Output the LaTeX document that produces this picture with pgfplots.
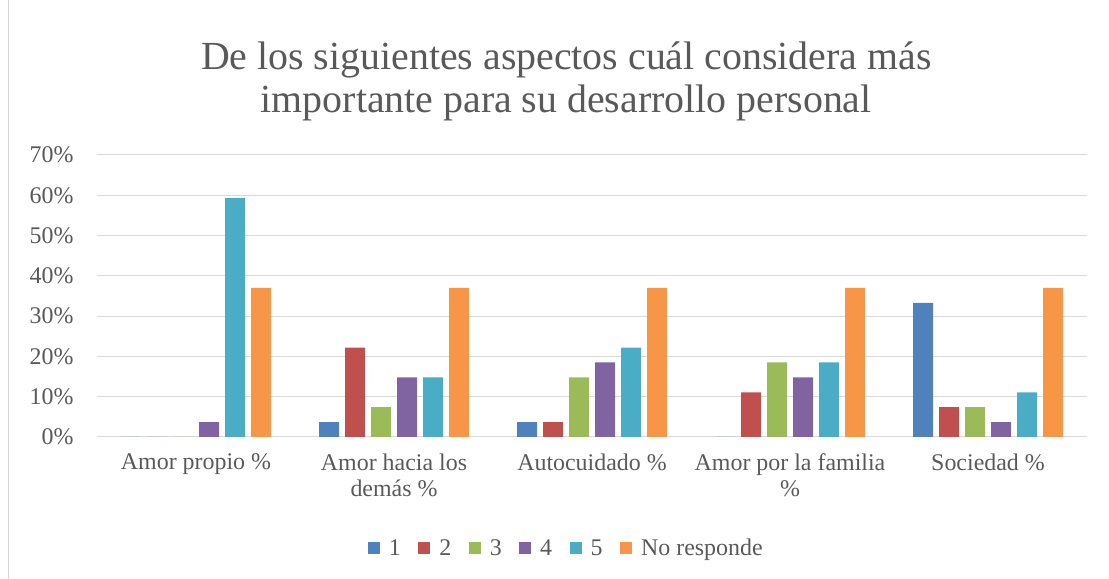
\documentclass[border=0pt]{standalone}
\usepackage{fontspec}
\setmainfont{Liberation Serif}
\usepackage{pgfplots}
\pgfplotsset{compat=1.18}
\definecolor{c1}{HTML}{4F81BD}
\definecolor{c2}{HTML}{C0504D}
\definecolor{c3}{HTML}{9BBB59}
\definecolor{c4}{HTML}{8064A2}
\definecolor{c5}{HTML}{4BACC6}
\definecolor{c6}{HTML}{F79646}
\definecolor{txt}{HTML}{595959}
\definecolor{grd}{HTML}{D9D9D9}
\begin{document}
\begin{tikzpicture}[x=1bp,y=1bp]
\path[use as bounding box] (0,0) rectangle (1109,579);
\draw[grd, line width=1bp] (8.5,0) -- (8.5,579);
\begin{axis}[
  at={(97bp,142bp)}, anchor=south west,
  scale only axis, width=990bp, height=282bp,
  ybar=6bp, bar width=20bp,
  xmin=-0.5, xmax=4.5, ymin=0, ymax=70,
  xtick={0,1,2,3,4},
  xticklabels={Amor propio \%, Amor hacia los\\demás \%, Autocuidado \%, Amor por la familia\\\%, Sociedad \%},
  xticklabel style={align=center, text=txt, font=\fontsize{24}{26.5}\selectfont, yshift=-13bp},
  ytick={0,10,...,70},
  yticklabels={0\%,10\%,20\%,30\%,40\%,50\%,60\%,70\%},
  yticklabel style={text=txt, font=\fontsize{24}{28}\selectfont, xshift=-20bp},
  major tick length=0pt,
  ymajorgrids, grid style={grd, line width=1bp},
  axis x line*=bottom, axis y line*=left,
  x axis line style={grd, line width=1bp},
  y axis line style={draw=none},
  title={De los siguientes aspectos cuál considera más\\importante para su desarrollo personal},
  title style={at={(rel axis cs:0.474,1.24)}, anchor=center, align=center, text=txt, font=\fontsize{40}{43}\selectfont},
  legend style={at={(rel axis cs:0.474,-0.394)}, anchor=center, draw=none, fill=none,
    legend columns=-1, font=\fontsize{24}{28}\selectfont, text=txt,
    /tikz/every odd column/.append style={column sep=7bp},
    /tikz/every even column/.append style={column sep=15.5bp}},
  legend image code/.code={\fill[#1] (0bp,-6bp) rectangle (12bp,6bp);},
]
\addplot[draw=none, fill=c1] coordinates {(0,0) (1,3.7) (2,3.7) (3,0) (4,33.3)};
\addplot[draw=none, fill=c2] coordinates {(0,0) (1,22.2) (2,3.7) (3,11.1) (4,7.4)};
\addplot[draw=none, fill=c3] coordinates {(0,0) (1,7.4) (2,14.8) (3,18.5) (4,7.4)};
\addplot[draw=none, fill=c4] coordinates {(0,3.7) (1,14.8) (2,18.5) (3,14.8) (4,3.7)};
\addplot[draw=none, fill=c5] coordinates {(0,59.3) (1,14.8) (2,22.2) (3,18.5) (4,11.1)};
\addplot[draw=none, fill=c6] coordinates {(0,37.0) (1,37.0) (2,37.0) (3,37.0) (4,37.0)};
\legend{1,2,3,4,5,No responde}
\end{axis}
\end{tikzpicture}
\end{document}
